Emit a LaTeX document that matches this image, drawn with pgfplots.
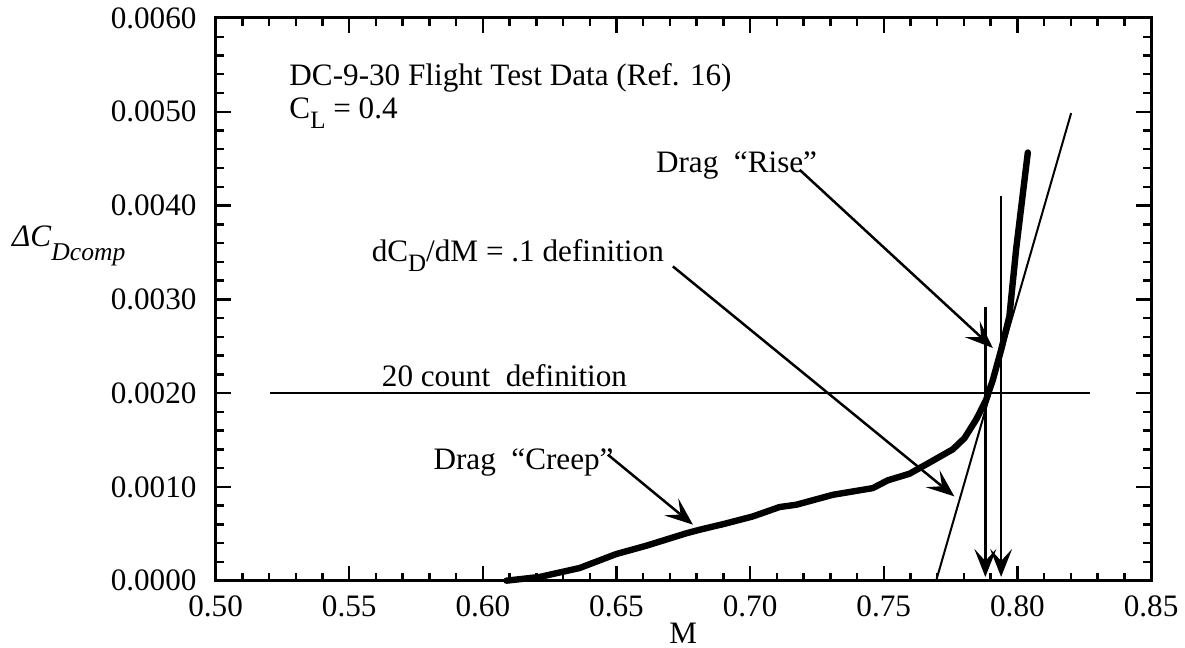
\documentclass[border=0pt]{standalone}
\usepackage{fontspec}
\setmainfont{Liberation Serif}
\usepackage{pgfplots}
\pgfplotsset{compat=1.18}
\usetikzlibrary{arrows.meta}

% lowered, slightly smaller subscript set in the text font
\newcommand{\lsub}[1]{\raisebox{-0.32em}{\fontsize{12.5}{13}\selectfont #1}}

\begin{document}
\begin{tikzpicture}[font=\fontsize{15.6}{18}\selectfont,
  arr/.style={line width=1.25pt, -{Stealth[length=14pt, width=11pt, inset=6pt]}}]
\begin{axis}[
  scale only axis, width=468pt, height=281.5pt,
  xmin=0.5, xmax=0.85, ymin=0, ymax=0.006,
  xtick={0.50,0.55,0.60,0.65,0.70,0.75,0.80,0.85},
  xticklabels={0.50,0.55,0.60,0.65,0.70,0.75,0.80,0.85},
  ytick={0,0.001,0.002,0.003,0.004,0.005,0.006},
  yticklabels={0.0000,0.0010,0.0020,0.0030,0.0040,0.0050,0.0060},
  scaled y ticks=false, scaled x ticks=false,
  minor x tick num=4, minor y tick num=4,
  tick align=inside, xtick pos=both, ytick pos=both,
  major tick length=7.5pt, minor tick length=4pt,
  every tick/.style={black, line width=1.2pt},
  axis line style={line width=1.5pt},
  tick label style={font=\fontsize{15.6}{18}\selectfont},
  xticklabel shift=4pt, yticklabel shift=6pt,
  clip=false,
]
% measured compressibility drag rise
\addplot[black, line width=3.2pt, line join=round, line cap=round] coordinates {
  (0.6088,0.000000) (0.6213,0.000040) (0.6362,0.000135) (0.6499,0.000284)
  (0.6612,0.000373) (0.6761,0.000505) (0.6811,0.000543) (0.6905,0.000607)
  (0.7010,0.000685) (0.7110,0.000785) (0.7173,0.000810) (0.7310,0.000916)
  (0.7459,0.000987) (0.7515,0.001070) (0.7596,0.001140) (0.7659,0.001240)
  (0.7758,0.001400) (0.7802,0.001520) (0.7846,0.001720) (0.7883,0.001930)
  (0.7908,0.002140) (0.7939,0.002460) (0.7970,0.002820) (0.7995,0.003530)
  (0.8039,0.004566)
};
% slope dCD/dM = 0.1
\addplot[black, line width=1pt] coordinates {(0.7696,0) (0.8201,0.004986)};
% 20 count level
\addplot[black, line width=1pt] coordinates {(0.5205,0.002) (0.8272,0.002)};
% divergence Mach numbers
\addplot[arr] coordinates {(0.7880,0.002918) (0.7880,0.00004)};
\addplot[arr] coordinates {(0.7939,0.004104) (0.7939,0.00004)};
% callout arrows
\addplot[arr] coordinates {(0.7185,0.004382) (0.7908,0.002481)};
\addplot[arr] coordinates {(0.6711,0.003351) (0.7764,0.000899)};
\addplot[arr] coordinates {(0.6468,0.001343) (0.6786,0.000597)};

\node[anchor=base west, inner sep=0] at (axis cs:0.5275,0.005277) {DC-9-30 Flight Test Data (Ref. 16)};
\node[anchor=base west, inner sep=0] at (axis cs:0.5275,0.004933) {C\lsub{L} = 0.4};
\node[anchor=base east, inner sep=0] at (axis cs:0.7252,0.00435) {Drag\ \ “Rise”};
\node[anchor=base west, inner sep=0] at (axis cs:0.5583,0.003404) {dC\lsub{D}/dM = .1 definition};
\node[anchor=base west, inner sep=0] at (axis cs:0.5621,0.002071) {20 count\ \ definition};
\node[anchor=base west, inner sep=0] at (axis cs:0.5814,0.001183) {Drag\ \ “Creep”};
\node[anchor=base west, inner sep=0] at (axis cs:0.4237,0.00356)
  {\textit{ΔC}\raisebox{-0.45em}{\fontsize{12.8}{13}\selectfont\textit{Dcomp}}};
\node[anchor=base, inner sep=0] at (rel axis cs:0.5,0) [yshift=-31.5pt] {M};

\coordinate (bl) at (rel axis cs:0,0);
\coordinate (tr) at (rel axis cs:1,1);
\end{axis}
\path ([xshift=-107.85pt,yshift=-33.5pt]bl) rectangle ([xshift=16.65pt,yshift=9pt]tr);
\end{tikzpicture}
\end{document}
